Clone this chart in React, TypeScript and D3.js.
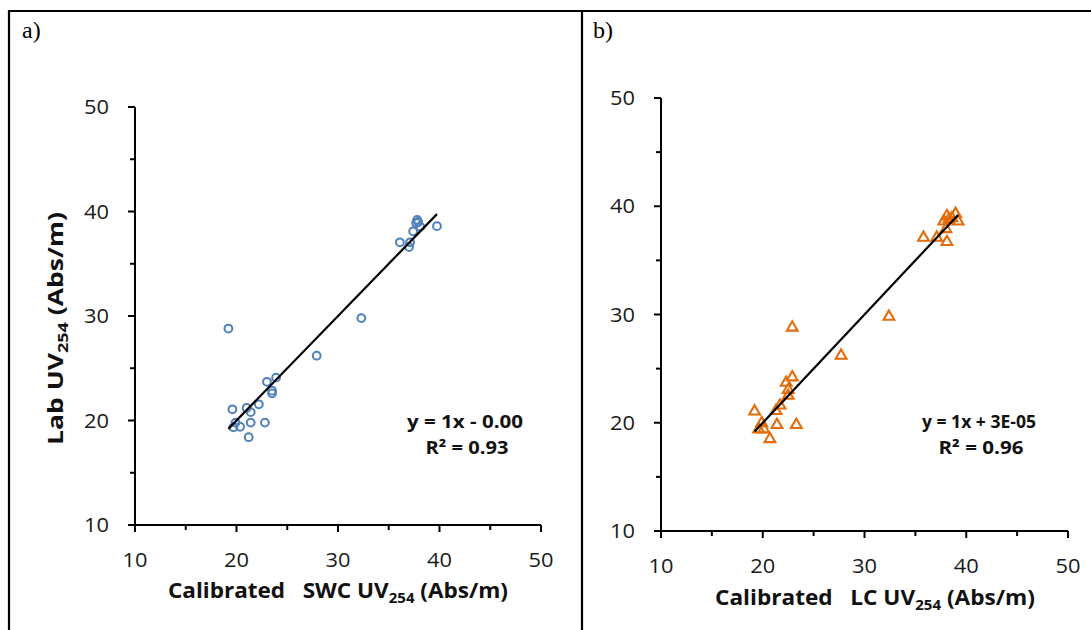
import React from "react";
import * as d3 from "d3";

const swcX = [19.2, 32.3, 27.9, 39.75, 37.8, 37.9, 38.1, 37.7, 37.4, 36.1, 37.1, 37.0, 23.0, 23.9, 23.5, 23.5, 19.6, 21.0, 22.2, 21.4, 21.4, 22.8, 19.9, 19.7, 20.35, 21.2];
const swcY = [28.8, 29.8, 26.2, 38.6, 39.2, 39.0, 38.55, 38.9, 38.1, 37.05, 37.05, 36.6, 23.7, 24.1, 22.85, 22.6, 21.07, 21.2, 21.55, 20.8, 19.8, 19.8, 19.8, 19.35, 19.4, 18.4];

const lcX = [38.95, 38.1, 37.8, 38.3, 38.6, 39.2, 38.0, 35.8, 37.1, 38.1, 32.4, 22.9, 27.7, 22.9, 22.3, 22.5, 22.5, 21.7, 21.3, 19.2, 19.9, 19.6, 20.1, 21.4, 23.3, 20.7];
const lcY = [39.3, 39.1, 38.6, 38.8, 38.9, 38.6, 37.9, 37.1, 37.1, 36.7, 29.8, 28.8, 26.2, 24.2, 23.7, 23.05, 22.5, 21.6, 21.1, 21.05, 19.97, 19.4, 19.4, 19.8, 19.8, 18.5];

const majorTicks = [10, 20, 30, 40, 50];
const minorTicks = [15, 25, 35, 45];
const slopeA = 1, interceptA = 0;
const slopeB = 1, interceptB = 0.00003;
const eqA = ["y = 1x - 0.00", "0.93"];
const eqB = ["y = 1x + 3E-05", "0.96"];

const SANS = "'Open Sans', 'Noto Sans', sans-serif";

type PanelProps = {
  xs: number[]; ys: number[]; xr: [number, number]; yr: [number, number];
  marker: "circle" | "triangle"; color: string; slope: number; intercept: number;
  eq: string[]; eqX: number; eqY: number; eqW: [number, number];
  xTitle: string; xTitleX: number; xTitleY: number; xTitleW: number;
  yTitle?: boolean; labelText: string; labelX: number;
};

function Panel(p: PanelProps) {
  const x = d3.scaleLinear().domain([10, 50]).range(p.xr);
  const y = d3.scaleLinear().domain([10, 50]).range(p.yr);
  const x0 = d3.min(p.xs)!, x1 = d3.max(p.xs)!;
  const line = d3.line<number>().x((v) => x(v)).y((v) => y(p.slope * v + p.intercept));
  const tri = d3.symbol().type(d3.symbolTriangle).size(50)();
  return (
    <g>
      <text x={p.labelX} y={38} fontFamily="'Liberation Serif', 'Times New Roman', serif" fontSize={24}>{p.labelText}</text>
      {/* axes */}
      <line x1={p.xr[0]} x2={p.xr[0]} y1={p.yr[0]} y2={p.yr[1]} stroke="#000" strokeWidth={2} />
      <line x1={p.xr[0]} x2={p.xr[1]} y1={p.yr[0]} y2={p.yr[0]} stroke="#000" strokeWidth={2} />
      {majorTicks.map((t) => (
        <g key={"my" + t}>
          <line x1={p.xr[0] - 7} x2={p.xr[0]} y1={y(t)} y2={y(t)} stroke="#000" strokeWidth={2} />
          <text x={p.xr[0] - 51} y={y(t)} dy="0.36em" textLength={25} lengthAdjust="spacingAndGlyphs" fontFamily={SANS} fontSize={19.5} fill="#1a1a1a">{t}</text>
          <line x1={x(t)} x2={x(t)} y1={p.yr[0]} y2={p.yr[0] + 7} stroke="#000" strokeWidth={2} />
          <text x={x(t) - 12.5} y={p.yr[0] + 42} textLength={25} lengthAdjust="spacingAndGlyphs" fontFamily={SANS} fontSize={19.5} fill="#1a1a1a">{t}</text>
        </g>
      ))}
      {minorTicks.map((t) => (
        <g key={"mn" + t}>
          <line x1={p.xr[0] - 5} x2={p.xr[0]} y1={y(t)} y2={y(t)} stroke="#000" strokeWidth={2} />
          <line x1={x(t)} x2={x(t)} y1={p.yr[0]} y2={p.yr[0] + 5} stroke="#000" strokeWidth={2} />
        </g>
      ))}
      {/* points */}
      {p.xs.map((v, i) =>
        p.marker === "circle" ? (
          <circle key={i} cx={x(v)} cy={y(p.ys[i])} r={3.9} fill="none" stroke={p.color} strokeWidth={2} />
        ) : (
          <path key={i} d={tri} transform={`translate(${x(v)},${y(p.ys[i])})`} fill="none" stroke={p.color} strokeWidth={2.1} />
        )
      )}
      {/* trendline */}
      <path d={line([x0, x1])!} stroke="#000" strokeWidth={2.2} fill="none" />
      {/* equation */}
      <text x={p.eqX - p.eqW[0] / 2} y={p.eqY} textLength={p.eqW[0]} lengthAdjust="spacingAndGlyphs" fontFamily={SANS} fontSize={18} fontWeight="bold" fill="#111">{p.eq[0]}</text>
      <text x={p.eqX - p.eqW[1] / 2 + 2} y={p.eqY + 26} textLength={p.eqW[1]} lengthAdjust="spacingAndGlyphs" fontFamily={SANS} fontSize={18} fontWeight="bold" fill="#111">{"R² = " + p.eq[1]}</text>
      {/* x title */}
      <text x={p.xTitleX - p.xTitleW / 2} y={p.xTitleY} textLength={p.xTitleW} lengthAdjust="spacingAndGlyphs" fontFamily={SANS} fontSize={21} fontWeight="bold" fill="#111" style={{ whiteSpace: "pre" }}>
        {p.xTitle}UV<tspan fontSize={14} dy={5}>254</tspan><tspan dy={-5}>{" (Abs/m)"}</tspan>
      </text>
      {p.yTitle && (
        <text transform={`translate(63,445) rotate(-90)`} textLength={233} lengthAdjust="spacingAndGlyphs" fontFamily={SANS} fontSize={22} fontWeight="bold" fill="#111">
          Lab UV<tspan fontSize={15} dy={5}>254</tspan><tspan dy={-5}>{" (Abs/m)"}</tspan>
        </text>
      )}
    </g>
  );
}

export default function App() {
  return (
    <svg width={1091} height={630} style={{ position: "absolute", left: 0, top: 0, background: "#fff" }}>
      <rect x={0} y={0} width={1091} height={630} fill="#fff" />
      <line x1={8} x2={1091} y1={11} y2={11} stroke="#000" strokeWidth={2.2} />
      <line x1={9} x2={9} y1={10} y2={630} stroke="#000" strokeWidth={2.2} />
      <line x1={582} x2={582} y1={10} y2={630} stroke="#000" strokeWidth={2.2} />
      <Panel xs={swcX} ys={swcY} xr={[135, 541]} yr={[525, 107]} marker="circle" color="#4F81BD"
        slope={slopeA} intercept={interceptA} eq={eqA} eqX={465} eqY={428} eqW={[116, 83]}
        xTitle={"Calibrated   SWC "} xTitleX={338} xTitleY={598} xTitleW={340} yTitle labelText="a)" labelX={22} />
      <Panel xs={lcX} ys={lcY} xr={[661, 1068]} yr={[531, 98]} marker="triangle" color="#E46C0A"
        slope={slopeB} intercept={interceptB} eq={eqB} eqX={979} eqY={428} eqW={[114, 85]}
        xTitle={"Calibrated   LC "} xTitleX={875} xTitleY={605} xTitleW={320} labelText="b)" labelX={593} />
    </svg>
  );
}
